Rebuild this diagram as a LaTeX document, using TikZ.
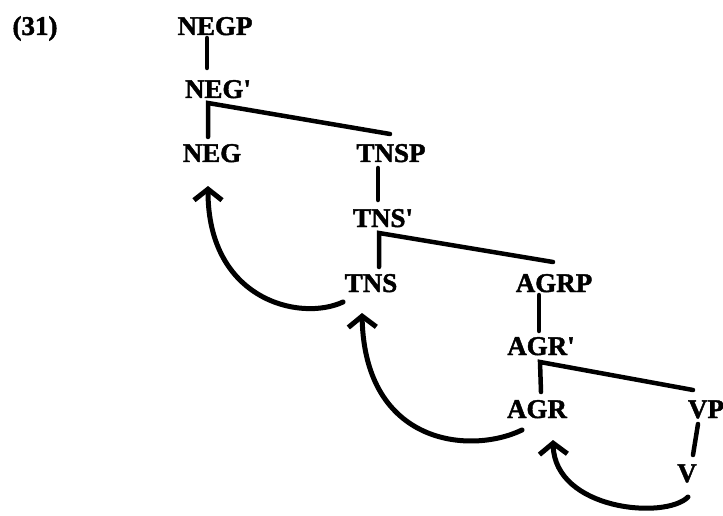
\documentclass[tikz,border=0pt]{standalone}
\usepackage{fontspec}
\setmainfont{Liberation Serif}[BoldFeatures={FakeBold=1.6}]
\usetikzlibrary{arrows.meta,calc}
\newcommand{\pr}{\textquotesingle}
\begin{document}
\begin{tikzpicture}[x=1pt,y=-1pt,
  lab/.style={anchor=base,inner sep=0pt,font=\fontsize{27}{30}\selectfont\bfseries},
  branch/.style={line width=4.5pt,line cap=round,line join=miter},
  move/.style={line width=5pt,line cap=round,-{Straight Barb[length=11pt,width=28pt,line width=5pt]}}]
\useasboundingbox (0,0) rectangle (723,516);
\node[lab] (l31) at (35,35) {(31)};
\node[lab] (negp) at (215,35) {NEGP};
\node[lab] (negbar) at (218,98) {NEG\pr};
\node[lab] (neg) at (212,162) {NEG};
\node[lab] (tnsp) at (391,162) {TNSP};
\node[lab] (tnsbar) at (383,227) {TNS\pr};
\node[lab] (tns) at (371,292) {TNS};
\node[lab] (agrp) at (554,292) {AGRP};
\node[lab] (agrbar) at (541,355) {AGR\pr};
\node[lab] (agr) at (537,418) {AGR};
\node[lab] (vp) at (706,418) {VP};
\node[lab] (v) at (687,482) {V};
% tree branches
\draw[branch] ($(negp.base)+(-8,3)$) -- ($(negbar.base)+(-11,-30)$);
\draw[branch] ($(neg.base)+(-4,-25)$) -- ($(negbar.base)+(-10,5)$) -- ($(tnsp.base)+(-1,-28)$);
\draw[branch] ($(tnsp.base)+(-13,6)$) -- ($(tnsbar.base)+(-5,-27)$);
\draw[branch] ($(tns.base)+(8,-25)$) -- ($(tnsbar.base)+(-4,6)$) -- ($(agrp.base)+(-1,-30)$);
\draw[branch] ($(agrp.base)+(-15,3)$) -- ($(agrbar.base)+(-2,-24)$);
\draw[branch] ($(agr.base)+(4,-26)$) -- ($(agrbar.base)+(-1,7)$) -- ($(vp.base)+(-13,-28)$);
\draw[branch] ($(vp.base)+(-8,6)$) -- ($(v.base)+(6,-27)$);
% head movement arrows
\draw[move] ($(tns.base)+(-28,10)$) .. controls (300,322) and (208,300) .. ($(neg.base)+(-4,24)$);
\draw[move] ($(agr.base)+(-15,12)$) .. controls (470,455) and (365,445) .. ($(tns.base)+(-9,21)$);
\draw[move] ($(v.base)+(1,15)$) .. controls (665,520) and (555,510) .. ($(agr.base)+(16,22)$);
\end{tikzpicture}
\end{document}
